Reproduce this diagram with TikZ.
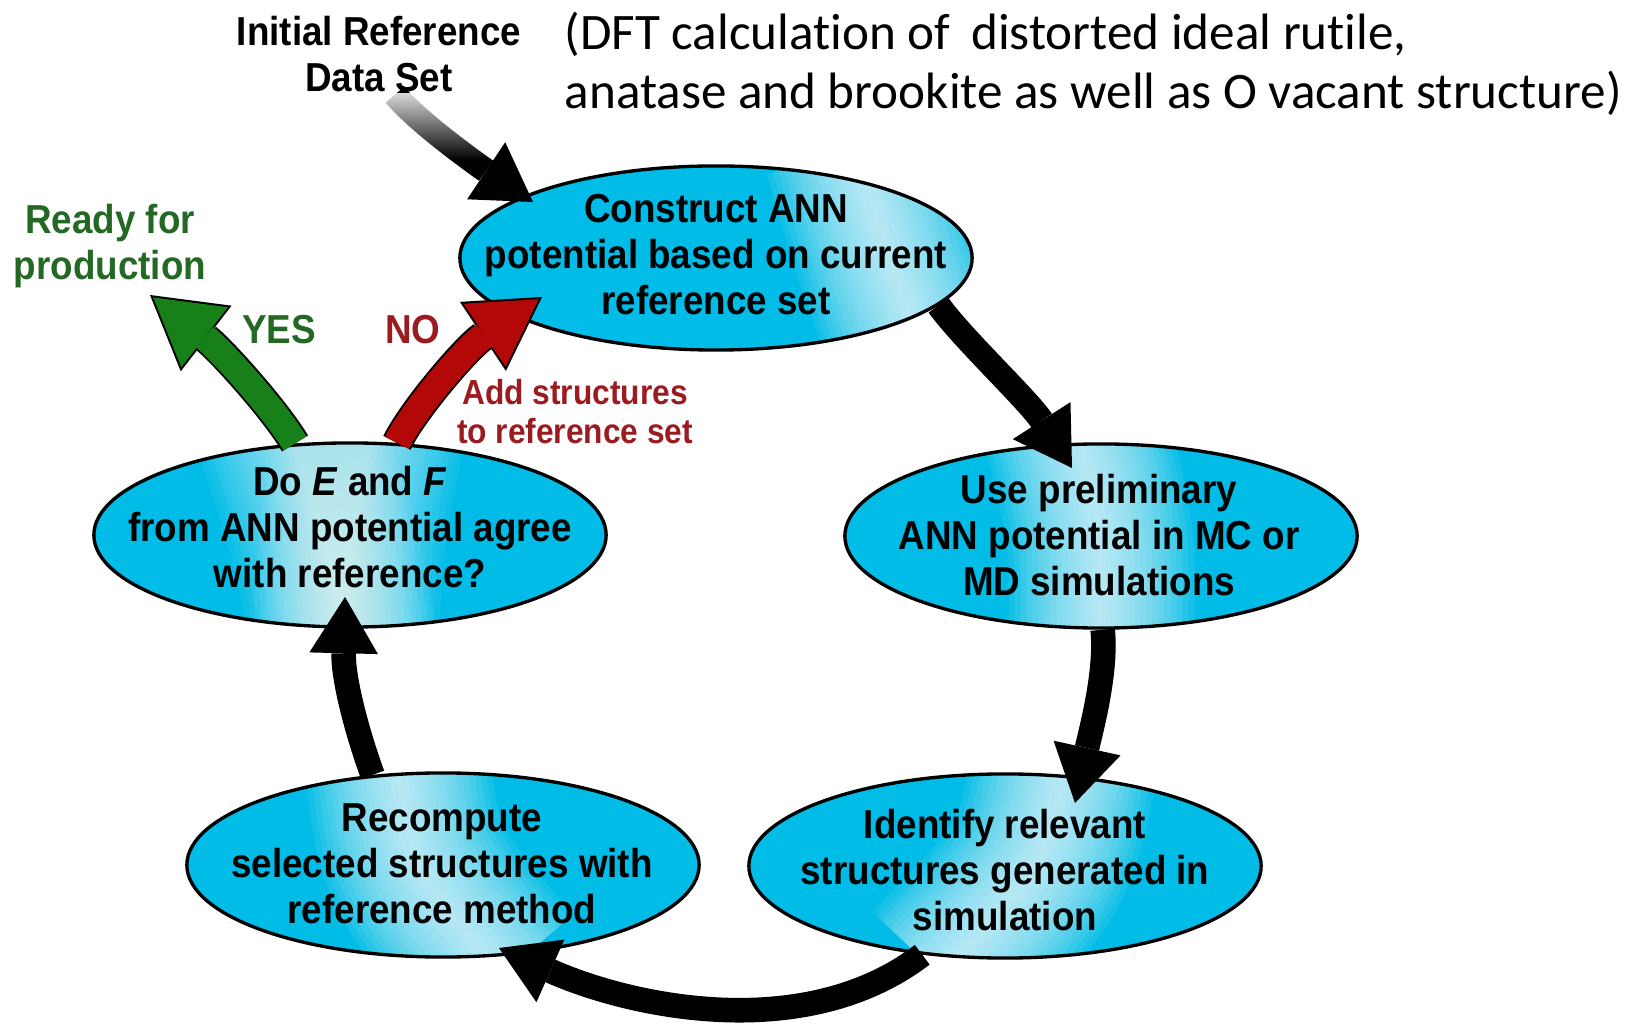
\documentclass[tikz,border=0pt]{standalone}
\usepackage{fontspec}
\usetikzlibrary{shapes.geometric,arrows.meta,calc,fadings}
\setmainfont{Liberation Sans}
\newfontfamily\lab[FakeStretch=0.91]{Liberation Sans}
\newfontfamily\note[Ligatures=NoCommon]{Carlito}
\definecolor{cy}{RGB}{0,188,230}
\definecolor{yesgreen}{RGB}{24,128,24}
\definecolor{yestext}{RGB}{35,105,35}
\definecolor{nored}{RGB}{178,8,8}
\definecolor{notext}{RGB}{155,28,32}
\tikzfading[name=fadeA, top color=transparent!15, bottom color=transparent!100]

% soft light band across a glassy ellipse: x offsets (px) at top, control, bottom
\newcommand\glare[4][1]{%
  \foreach \w in {186,174,...,6}{%
    \draw[white, line width=\w*0.2845pt, opacity=#1*0.08]
      ($(path picture bounding box.center)+(#2,-110)$) .. controls
      ($(path picture bounding box.center)+(#3,0)$) ..
      ($(path picture bounding box.center)+(#4,110)$);
  }}

\tikzset{
  glass/.style={ellipse, draw=black, line width=0.95pt, fill=cy,
    minimum width=5.12cm, minimum height=1.84cm, inner sep=0pt},
  lbl/.style={font={\lab\bfseries\fontsize{11.5pt}{13.1pt}\selectfont},
    align=center, inner sep=0pt},
  small/.style={font={\lab\bfseries\fontsize{9.9pt}{11.1pt}\selectfont}},
  notestyle/.style={font={\note\fontsize{14.55pt}{16.8pt}\selectfont},
    align=left, inner sep=0pt},
  blk/.style={draw=black, line width=7pt,
    -{Triangle[length=16pt,width=19.5pt,line width=0pt]}},
  rim/.style={draw=black, line width=8.7pt,
    -{Triangle[length=20.2pt,width=23.6pt,line width=0pt]}},
  core/.style={draw=#1, line width=7.6pt, shorten >=1.13pt,
    -{Triangle[length=18.5pt,width=21.6pt,line width=0pt]}},
}

\begin{document}
\begin{tikzpicture}[x=0.01cm, y=-0.01cm]
\fill[white] (0,0) rectangle (1639,1025);
\useasboundingbox (0,0) rectangle (1639,1025);

% the five stages of the loop
\node[glass, path picture={\glare{140}{172}{215}}] (e1) at (716,258) {};
\node[glass, path picture={\glare{-25}{2}{0}}] (e2) at (1101,536) {};
\node[glass, path picture={\glare{61}{40}{-65}}] (e3) at (1005,866) {};
\node[glass, path picture={\glare{-46}{-34}{59}}] (e4) at (443,865) {};
\node[glass, path picture={\glare[0.7]{-63}{-26}{-5}\glare[0.7]{23}{1}{-5}}] (e5) at (350,535) {};

\node[lbl] (t1) at (716,255) {Construct ANN\\potential based on current\\reference set};
\node[lbl] (t2) at (1099,535) {Use preliminary\\ANN potential in MC or\\MD simulations};
\node[lbl] (t3) at (1005,870) {Identify relevant\\structures generated in\\simulation};
\node[lbl] (t4) at (442,864) {Recompute\\selected structures with\\reference method};
\node[lbl] (t5) at (350,527) {Do \textit{E} and \textit{F}\\from ANN potential agree\\with reference?};

% free labels
\node[lbl] (init) at (379,54) {Initial Reference\\Data Set};
\node[lbl, text=yestext] (ready) at (110,246) {Ready for\\production};
\node[lbl, text=yestext] (yes) at (279,330) {YES};
\node[lbl, text=notext] (no) at (413,330) {NO};
\node[lbl, small, text=notext] (add) at (575,412) {Add structures\\to reference set};
\node[notestyle, anchor=west] (dft) at (564,64)
  {(DFT calculation of\hspace{6pt}distorted ideal rutile,\\anatase and brookite as well as O vacant structure)};

% arrow tips
\coordinate (tip1) at (533,202);
\coordinate (tip2) at (1072,468);
\coordinate (tip3) at (1075,803);
\coordinate (tip4) at (499,948);
\coordinate (tip5) at (345,597);
\coordinate (tipY) at (150,295);
\coordinate (tipN) at (542,297);

% loop arrows
\draw[blk] ($(init.south)+(16,2)$) .. controls (420,125) and (488,172) .. (tip1);
\fill[white, path fading=fadeA] (364,93) rectangle (486,160);
\draw[blk] (e1.-12.6) .. controls (962,338) and (1029,401) .. (tip2);
\draw[blk] (e2.-89) .. controls (1107,672) and (1091,730) .. (tip3);
\draw[blk] (e3.-133) .. controls (804,1045) and (629,1006) .. (tip4);
\draw[blk] (e4.128) .. controls (358,735) and (343,680) .. (tip5);

% decision arrows
\draw[rim] (e5.121) .. controls (275,410) and (221,350) .. (tipY);
\draw[core=yesgreen] (e5.121) .. controls (275,410) and (221,350) .. (tipY);
\draw[rim] (e5.63) .. controls (413,410) and (467,347) .. (tipN);
\draw[core=nored] (e5.63) .. controls (413,410) and (467,347) .. (tipN);
\end{tikzpicture}
\end{document}
